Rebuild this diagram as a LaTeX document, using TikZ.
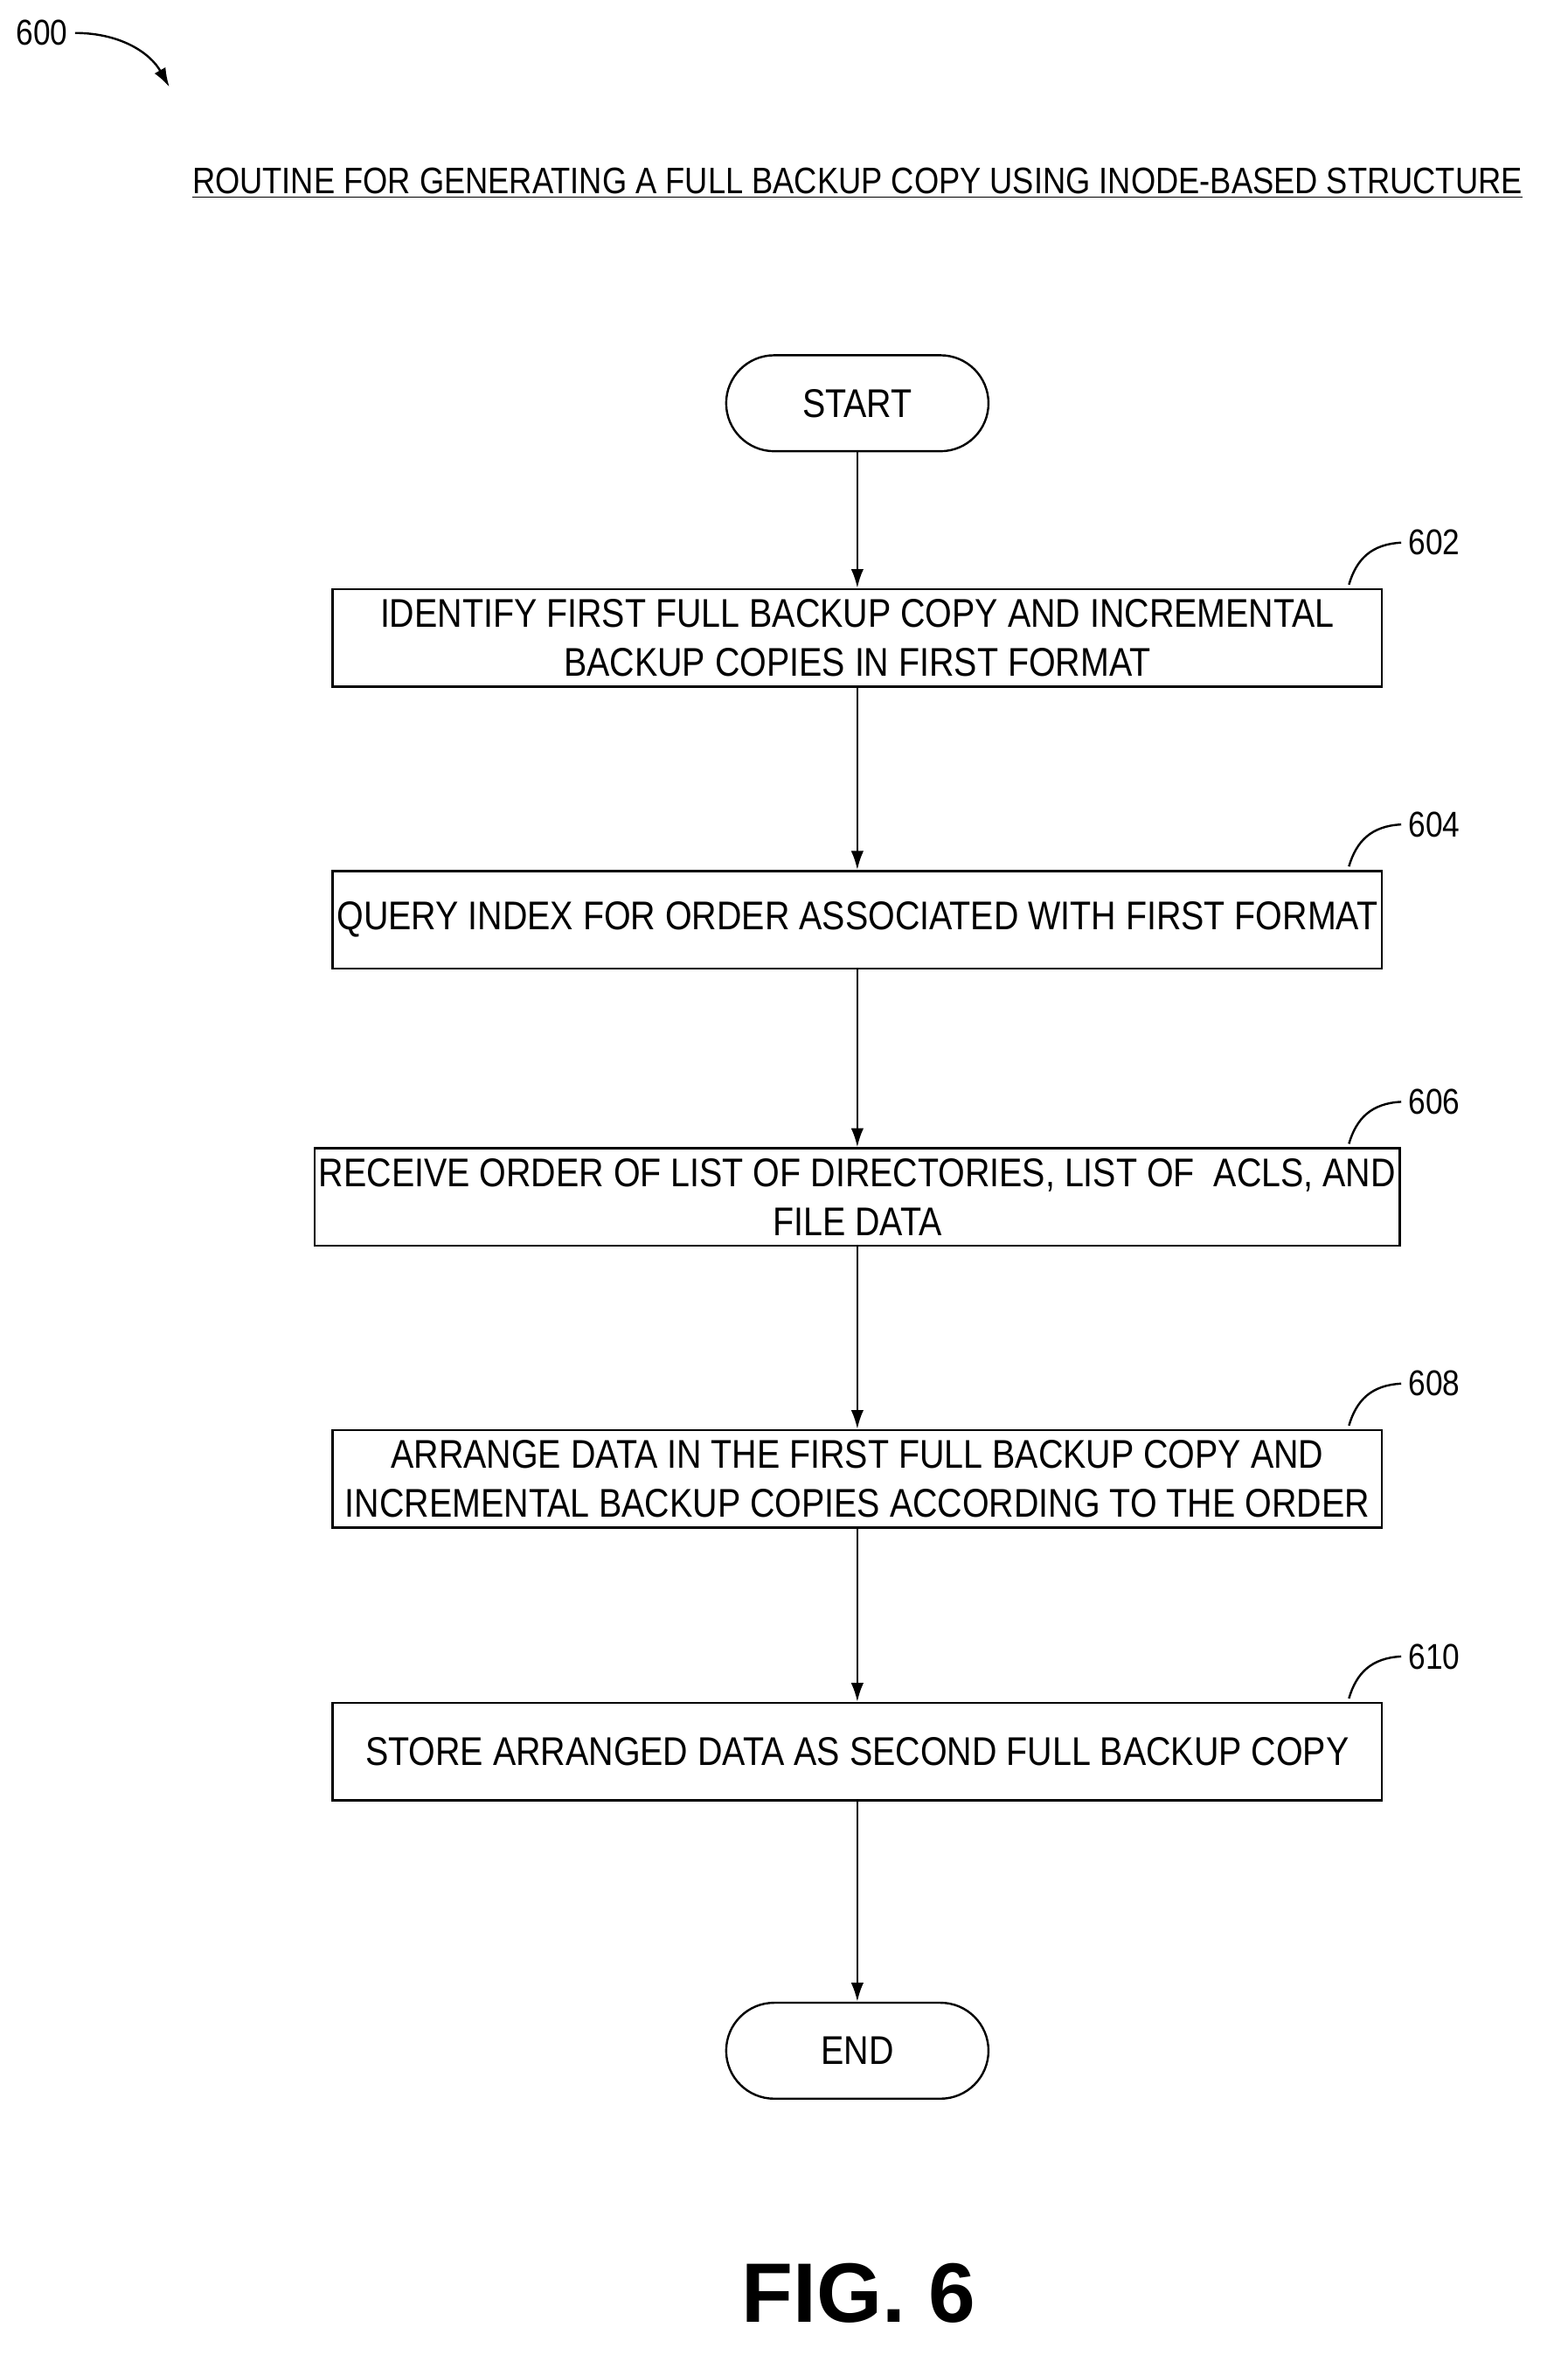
\documentclass[tikz,border=0pt]{standalone}
\usetikzlibrary{arrows.meta}
\usepackage{fontspec}
\setmainfont[FakeStretch=0.86]{Liberation Sans}
\newfontfamily\figfont{Liberation Sans}
\begin{document}
\begin{tikzpicture}[x=0.025cm,y=-0.025cm,
  box/.style={draw,line width=1pt,minimum width=700*0.025cm,minimum height=65*0.025cm,align=center,inner sep=2pt,font=\fontsize{19}{23}\selectfont},
  term/.style={draw,line width=1pt,rounded corners=32*0.025cm,minimum width=175*0.025cm,minimum height=64*0.025cm,font=\fontsize{19}{23}\selectfont},
  lbl/.style={font=\fontsize{17}{20}\selectfont},
  arr/.style={-{Latex[length=9pt,width=6pt]},line width=1pt}]
\useasboundingbox (0,0) rectangle (1046,1571);
\node[lbl] (n600) at (28,22) {600};
\coordinate (a600) at (113,58);
\draw[arr] (n600.east) .. controls (80,22) and (100,35) .. (a600);
\node[font=\fontsize{17.5}{20}\selectfont] (title) at (572,122) {\underline{ROUTINE FOR GENERATING A FULL BACKUP COPY USING INODE-BASED STRUCTURE}};
\node[term] (start) at (572,269) {START};
\node[box] (b602) at (572,425.5) {IDENTIFY FIRST FULL BACKUP COPY AND INCREMENTAL\\BACKUP COPIES IN FIRST FORMAT};
\node[box] (b604) at (572,613.5) {QUERY INDEX FOR ORDER ASSOCIATED WITH FIRST FORMAT};
\node[box] (b606) at (572,798.5) {RECEIVE ORDER OF LIST OF DIRECTORIES, LIST OF \ ACLS, AND\\FILE DATA};
\node[box] (b608) at (572,986.5) {ARRANGE DATA IN THE FIRST FULL BACKUP COPY AND\\INCREMENTAL BACKUP COPIES ACCORDING TO THE ORDER};
\node[box] (b610) at (572,1168.5) {STORE ARRANGED DATA AS SECOND FULL BACKUP COPY};
\node[term] (end) at (572,1368) {END};
\foreach \a/\b in {start/b602,b602/b604,b604/b606,b606/b608,b608/b610,b610/end}
  \draw[arr] (\a) -- (\b);
\foreach \n/\y in {602/393,604/581,606/766,608/954,610/1136}{
  \node[lbl] (l\n) at (957,\y-31) {\n};
  \draw[line width=1pt] (900,\y-3) .. controls (905,\y-20) and (915,\y-30) .. (l\n.west);
}
\node[font=\figfont\bfseries\fontsize{40}{48}\selectfont] (fig) at (573,1530) {FIG. 6};
\end{tikzpicture}
\end{document}
